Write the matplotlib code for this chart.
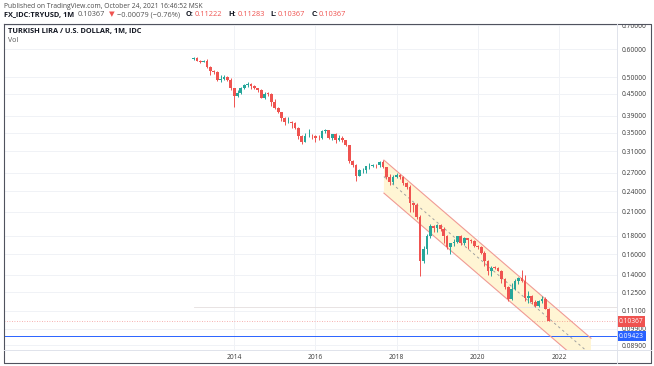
import numpy as np
import pandas as pd
import matplotlib
matplotlib.use("Agg")
import matplotlib.pyplot as plt
import matplotlib.dates as mdates
from matplotlib.lines import Line2D
from matplotlib.patches import Rectangle, Polygon
from matplotlib.ticker import FixedLocator, NullLocator, FuncFormatter

W, H = 654, 366
FONT = ["Open Sans", "DejaVu Sans"]
plt.rcParams["font.family"] = FONT

# monthly candles, Jan 2013 .. Oct 2021 (TRYUSD)
months = pd.date_range("2013-01-01", "2021-10-01", freq="MS")

opens = [
    .5612, .5672, .5556, .5534, .5568, .5345, .5192, .5163, .4921, .4941, .5020, .4924,
    .4658, .4427, .4519, .4673, .4746, .4792, .4715, .4666, .4615, .4386, .4500, .4498,
    .4277, .4098, .3994, .3843, .3751, .3754, .3723, .3609, .3425, .3303, .3427, .3435,
    .3420, .3384, .3376, .3537, .3568, .3388, .3466, .3340, .3378, .3333, .3224, .2912,
    .2841, .2650, .2743, .2745, .2823, .2823, .2847, .2832, .2896, .2799, .2632, .2544,
    .2635, .2662, .2634, .2528, .2464, .2222, .2193, .2037, .1527, .1652, .1792, .1917,
    .1890, .1924, .1875, .1800, .1672, .1715, .1727, .1795, .1716, .1770, .1748, .1741,
    .1681, .1673, .1606, .1526, .1432, .1467, .1460, .1436, .1359, .1293, .1199, .1276,
    .1345, .1372, .1345, .1205, .1218, .1171, .1148, .1184, .1200, .11222,
]
highs = [
    .5700, .5690, .5580, .5600, .5610, .5370, .5240, .5200, .5090, .5080, .5040, .4970,
    .4680, .4600, .4700, .4780, .4860, .4830, .4760, .4680, .4630, .4550, .4560, .4530,
    .4360, .4120, .4000, .3880, .3860, .3770, .3750, .3620, .3440, .3500, .3580, .3470,
    .3440, .3450, .3560, .3580, .3570, .3480, .3500, .3450, .3420, .3340, .3240, .2930,
    .2860, .2770, .2790, .2830, .2870, .2860, .2860, .2910, .2930, .2810, .2680, .2660,
    .2700, .2680, .2640, .2540, .2490, .2230, .2220, .2060, .1690, .1820, .1940, .1930,
    .1940, .1940, .1900, .1810, .1720, .1760, .1800, .1810, .1790, .1780, .1760, .1750,
    .1700, .1680, .1630, .1540, .1480, .1480, .1470, .1440, .1370, .1300, .1330, .1360,
    .1380, .1445, .1400, .1260, .1230, .1190, .1190, .1220, .1210, .11283,
]
lows = [
    .5590, .5540, .5490, .5520, .5320, .5070, .5110, .4880, .4850, .4920, .4880, .4620,
    .4140, .4400, .4480, .4630, .4700, .4640, .4640, .4560, .4370, .4350, .4440, .4150,
    .4070, .3960, .3770, .3680, .3720, .3600, .3590, .3360, .3250, .3290, .3400, .3370,
    .3300, .3340, .3360, .3490, .3350, .3340, .3270, .3310, .3300, .3210, .2880, .2800,
    .2560, .2640, .2700, .2690, .2760, .2800, .2780, .2800, .2780, .2590, .2500, .2520,
    .2620, .2600, .2500, .2430, .2100, .2100, .2010, .1390, .1510, .1600, .1780, .1850,
    .1850, .1860, .1720, .1650, .1600, .1690, .1720, .1700, .1700, .1650, .1720, .1670,
    .1650, .1600, .1480, .1400, .1390, .1450, .1430, .1330, .1280, .1180, .1190, .1270,
    .1320, .1340, .1180, .1170, .1160, .1140, .1140, .1170, .1120, .10367,
]
closes = [
    .5672, .5556, .5534, .5568, .5345, .5192, .5163, .4921, .4941, .5020, .4924, .4658,
    .4427, .4519, .4673, .4746, .4792, .4715, .4666, .4615, .4386, .4500, .4498, .4277,
    .4098, .3994, .3843, .3751, .3754, .3723, .3609, .3425, .3303, .3427, .3435, .3420,
    .3384, .3376, .3537, .3568, .3388, .3466, .3340, .3378, .3333, .3224, .2912, .2841,
    .2650, .2743, .2745, .2823, .2823, .2847, .2832, .2896, .2799, .2632, .2544, .2635,
    .2662, .2634, .2528, .2464, .2222, .2193, .2037, .1527, .1652, .1792, .1917, .1890,
    .1924, .1875, .1800, .1672, .1715, .1727, .1795, .1716, .1770, .1748, .1741, .1681,
    .1673, .1606, .1526, .1432, .1467, .1460, .1436, .1359, .1293, .1199, .1276, .1345,
    .1372, .1345, .1205, .1218, .1171, .1148, .1184, .1200, .11222, .10367,
]

price_ticks = [0.7, 0.6, 0.5, 0.45, 0.39, 0.35, 0.31, 0.27, 0.24, 0.21, 0.18, 0.16,
               0.14, 0.125, 0.111, 0.099, 0.089]
year_ticks = ["2014", "2016", "2018", "2020", "2022"]

last_price = 0.10367
blue_level = 0.09423
vol_level = 0.1135

# drawn regression channel (two anchors)
chan_dates = ["2017-09-09", "2022-10-16"]
chan_upper = [0.2932, 0.0930]
chan_lower = [0.2370, 0.0752]

UP, DOWN = "#26a69a", "#ef5350"

fig = plt.figure(figsize=(W / 100, H / 100), dpi=100)
fig.patch.set_facecolor("white")


def px(x, y):
    return x / W, 1 - y / H


ax = fig.add_axes([4 / W, 1 - 350 / H, (617 - 4) / W, (350 - 24) / H])
ax.set_yscale("log")
ax.set_xlim(mdates.datestr2num("2008-05-01"), mdates.datestr2num("2023-06-07"))
ax.set_ylim(0.0862, 0.705)
for s in ax.spines.values():
    s.set_visible(False)

# grid
for v in price_ticks:
    ax.axhline(v, color="#f0f2f6", lw=0.7, zorder=0)
for yr in year_ticks:
    ax.axvline(mdates.datestr2num(yr + "-01-01"), color="#f0f2f6", lw=0.7, zorder=0)

# channel
cx = mdates.datestr2num(chan_dates)
poly = Polygon([(cx[0], chan_upper[0]), (cx[1], chan_upper[1]),
                (cx[1], chan_lower[1]), (cx[0], chan_lower[0])],
               closed=True, facecolor="#fff5d4", edgecolor="none", zorder=1)
ax.add_patch(poly)
ax.plot(cx, chan_upper, color="#f09a94", lw=0.8, zorder=2)
ax.plot(cx, chan_lower, color="#f09a94", lw=0.8, zorder=2)
mid = np.sqrt(np.array(chan_upper) * np.array(chan_lower))
ax.plot(cx, mid, color="#a0a0a0", lw=0.7, ls=(0, (2.5, 3)), zorder=2)

# volume baseline / levels
xm = mdates.date2num(months.to_pydatetime())
ax.plot([xm[0], ax.get_xlim()[1]], [vol_level, vol_level], color="#e4dede", lw=0.6, zorder=1)
ax.axhline(last_price, color=DOWN, lw=0.6, ls=(0, (1, 2)), alpha=0.6, zorder=1)
ax.axhline(blue_level, color="#2962ff", lw=0.7, zorder=1)

# candles
bw = 24
for x, o, h, l, c in zip(xm, opens, highs, lows, closes):
    col = UP if c >= o else DOWN
    ax.vlines(x, l, h, color=col, lw=0.7, zorder=3)
    lo, hi = min(o, c), max(o, c)
    ax.add_patch(Rectangle((x - bw / 2, lo), bw, max(hi - lo, 0.0008),
                           facecolor=col, edgecolor="none", zorder=4))

# axes ticks
ax.yaxis.tick_right()
ax.yaxis.set_major_locator(FixedLocator(price_ticks))
ax.yaxis.set_minor_locator(NullLocator())
ax.yaxis.set_major_formatter(FuncFormatter(lambda v, p: f"{v:.5f}"))
ax.yaxis.set_minor_formatter(FuncFormatter(lambda v, p: ""))
ax.tick_params(axis="y", length=0, pad=3, labelsize=4.8, labelcolor="#3a3a3a")
ax.set_xticks(mdates.datestr2num([y + "-01-01" for y in year_ticks]))
ax.set_xticklabels(year_ticks)
ax.tick_params(axis="x", length=0, pad=3.2, labelsize=4.8, labelcolor="#3a3a3a")

# price boxes on the axis
tr = ax.get_yaxis_transform()
for v, fc in [(last_price, DOWN), (blue_level, "#2962ff")]:
    ax.text(1.0 + 2 / 613, v, f"{v:.5f}", transform=tr, ha="left", va="center",
            fontsize=4.8, color="white", zorder=20, clip_on=False,
            bbox=dict(boxstyle="square,pad=0.25", fc=fc, ec="none"))

# mask label overflow above the pane
fig.patches.append(Rectangle(px(617, 24), 1, 1, transform=fig.transFigure,
                             facecolor="white", edgecolor="none", zorder=10))

# frame
frame = dict(transform=fig.transFigure, zorder=11)
x0, y0 = px(4, 24)
x1, y1 = px(651, 363)
fig.lines.append(Line2D([x0, x1, x1, x0, x0], [y0, y0, y1, y1, y0],
                        color="#50535e", lw=0.8, **frame))
sx, _ = px(617, 0)
fig.lines.append(Line2D([sx, sx], [y0, y1], color="#e0e3eb", lw=0.7, **frame))
_, sy = px(0, 350)
fig.lines.append(Line2D([x0, x1], [sy, sy], color="#e0e3eb", lw=0.7, **frame))

# header texts
fig.canvas.draw()
r = fig.canvas.get_renderer()


def run(x, y, parts, size):
    for s, color, weight, gap in parts:
        t = fig.text(*px(x, y), s, color=color, fontweight=weight, fontsize=size,
                     ha="left", va="center", family=FONT, zorder=12)
        x += t.get_window_extent(renderer=r).width + gap


fig.text(*px(4, 6), "Published on TradingView.com, October 24, 2021 16:46:52 MSK",
         fontsize=4.9, color="#4a4a4a", va="center", ha="left")
dark = "#131722"
run(4, 15, [
    ("FX_IDC:TRYUSD, 1M", dark, "bold", 4),
    ("0.10367", "#555555", "normal", 3),
    ("\u25bc", DOWN, "normal", 3),
    ("\u22120.00079 (\u22120.76%)", "#555555", "normal", 6),
    ("O:", dark, "bold", 1), ("0.11222", DOWN, "normal", 6),
    ("H:", dark, "bold", 1), ("0.11283", DOWN, "normal", 6),
    ("L:", dark, "bold", 1), ("0.10367", DOWN, "normal", 6),
    ("C:", dark, "bold", 1), ("0.10367", DOWN, "normal", 0),
], 5.3)
fig.text(*px(8, 31), "TURKISH LIRA / U.S. DOLLAR, 1M, IDC", fontsize=5.3,
         fontweight="bold", color=dark, va="center", ha="left", zorder=12)
fig.text(*px(8, 40), "Vol", fontsize=5, color="#555555", va="center", ha="left", zorder=12)

fig.savefig("out.png", dpi=100, facecolor="white")
